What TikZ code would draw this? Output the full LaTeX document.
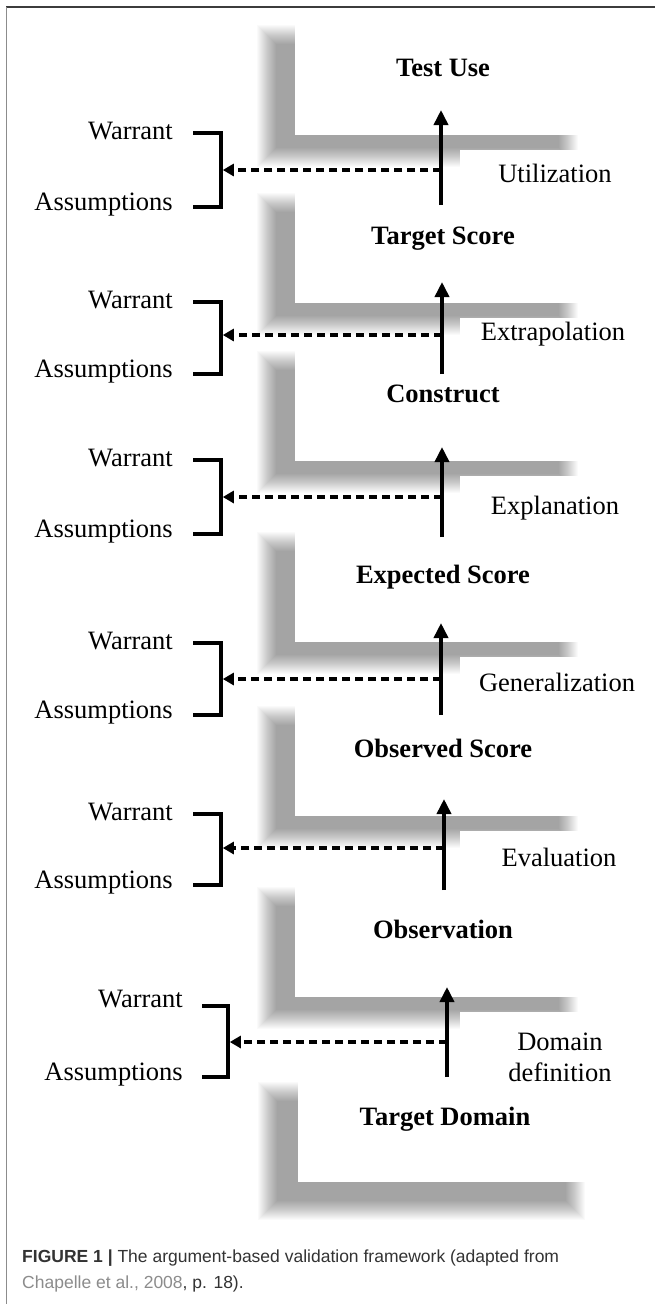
\documentclass[tikz,border=0pt]{standalone}
\usepackage{fontspec}
\setmainfont{Liberation Serif}
\newfontfamily\capfont{Liberation Sans}
\usetikzlibrary{arrows.meta}
\definecolor{frametop}{HTML}{3C3C3C}
\definecolor{frameside}{HTML}{8C8C8C}
\definecolor{captext}{HTML}{333333}
\definecolor{caplink}{HTML}{8C8C8C}
\newcommand\myshadow[4]{%
  \foreach \j in {0,...,19}{%
    \fill[black,opacity=0.018] (#1-10+\j,#2-10+\j) rectangle (#3+10-\j,#4+10-\j);}}
\begin{document}
\begin{tikzpicture}[x=1pt,y=-1pt,
  txt/.style={font=\fontsize{26.5}{31}\selectfont, inner sep=0pt},
  ttl/.style={font=\fontsize{26.5}{31}\selectfont\bfseries, inner sep=0pt},
  bracket/.style={line width=3.6pt},
  uparrow/.style={line width=3.6pt,-{Triangle[length=15pt,width=14pt]}},
  warrarrow/.style={line width=3.4pt,dash pattern=on 8.5pt off 4.5pt,-{Triangle[length=11pt,width=12pt]}},
  maskbox/.style={fill=white},
  captxt/.style={anchor=base west,inner sep=0pt,font=\capfont\fontsize{17.5}{21}\selectfont,text=captext}]
\useasboundingbox (0,0) rectangle (655,1304);
\fill[white] (0,0) rectangle (655,1304);
% shadows
\foreach \B in {135,303,461,642,816,997}{
  \myshadow{267}{\B-100}{568}{\B+22}
}
\myshadow{268}{1092}{575}{1210}
% masking boxes
\foreach \B in {135,303,461,642,816,997}{
  \fill[maskbox] (295,\B-125) rectangle (615,\B);
  \fill[maskbox] (460,\B+15) rectangle (625,\B+50);
}
\fill[maskbox] (298,1050) rectangle (625,1182);
% sections 0..4
\foreach \k/\B/\ti/\lb/\tip/\dy/\tpa/\tpb/\abt/\ly/\lx/\ax in {
  0/135/Test Use/Utilization/110/170/133/207/205/177/555/441,
  1/303/Target Score/Extrapolation/282/335/302/374/374/335/553/442,
  2/461/Construct/Explanation/447/497/460/534/537/509/555/442,
  3/642/Expected Score/Generalization/623/679/643/715/715/686/557/441,
  4/816/Observed Score/Evaluation/799/848/814/885/890/861/559/444}{
  \node[ttl,anchor=mid] (title\k) at (443,\B-61) {\ti};
  \node[txt,anchor=mid east] (war\k) at (173,\tpa+4) {Warrant};
  \node[txt,anchor=mid east] (ass\k) at (173,\tpb+1) {Assumptions};
  \node[txt,anchor=mid] (lab\k) at (\lx,\ly+3) {\lb};
  \coordinate (tt\k) at (193,\tpa);
  \coordinate (bt\k) at (221,\tpa);
  \coordinate (bb\k) at (221,\tpb);
  \coordinate (tb\k) at (193,\tpb);
  \draw[bracket] (tt\k) -- (bt\k) -- (bb\k) -- (tb\k);
  \coordinate (ab\k) at (\ax,\abt);
  \coordinate (at\k) at (\ax,\tip);
  \draw[uparrow] (ab\k) -- (at\k);
  \coordinate (dm\k) at (\ax,\dy);
  \coordinate (dl\k) at (222.8,\dy);
  \draw[warrarrow] (dm\k) -- (dl\k);
}
% section 5
\node[ttl,anchor=mid] (title5) at (443,936) {Observation};
\node[txt,anchor=mid east] (war5) at (183,1005) {Warrant};
\node[txt,anchor=mid east] (ass5) at (183,1078) {Assumptions};
\node[txt,align=center] (lab5) at (560,1057) {Domain\\definition};
\coordinate (tt5) at (202,1006);
\coordinate (bt5) at (228,1006);
\coordinate (bb5) at (228,1077);
\coordinate (tb5) at (202,1077);
\draw[bracket] (tt5) -- (bt5) -- (bb5) -- (tb5);
\coordinate (ab5) at (447,1077);
\coordinate (at5) at (447,987);
\draw[uparrow] (ab5) -- (at5);
\coordinate (dm5) at (447,1042);
\coordinate (dl5) at (229.8,1042);
\draw[warrarrow] (dm5) -- (dl5);
\node[ttl,anchor=mid] (title6) at (445,1123) {Target Domain};
% caption
\node[captxt] (cap1) at (22,1262) {\textbf{FIGURE 1 |} The argument-based validation framework (adapted from};
\node[captxt] (cap2) at (22,1288) {\textcolor{caplink}{Chapelle et al., 2008}, p. 18).};
% frame
\draw[frametop,line width=2.5pt] (6,7) -- (655,7);
\draw[frameside,line width=1.8pt] (6.5,7) -- (6.5,1304);
\end{tikzpicture}
\end{document}
